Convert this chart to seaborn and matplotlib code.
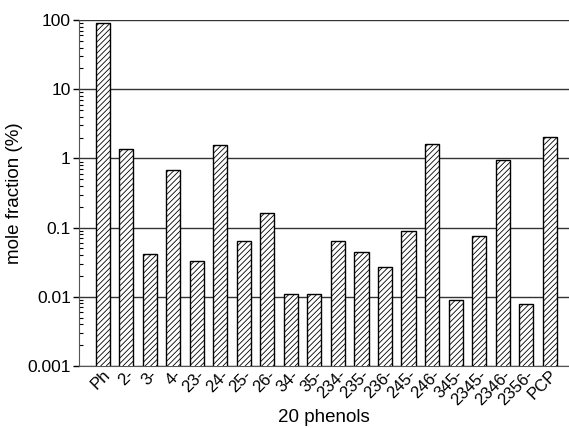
import pandas as pd
import matplotlib
matplotlib.use('Agg')
import matplotlib.pyplot as plt
import matplotlib.ticker as mticker
import seaborn as sns

sns.set_style('white')
plt.rcParams['font.family'] = ['Liberation Sans', 'DejaVu Sans']
plt.rcParams['hatch.linewidth'] = 0.6
plt.rcParams['text.color'] = 'black'
plt.rcParams['axes.labelcolor'] = 'black'
plt.rcParams['xtick.color'] = 'black'
plt.rcParams['ytick.color'] = 'black'

phenols = ['Ph', '2-', '3-', '4-', '23-', '24-', '25-', '26-', '34-', '35-',
           '234-', '235-', '236-', '245-', '246-', '345-', '2345-', '2346-',
           '2356-', 'PCP']
mole_fraction = [90, 1.38, 0.042, 0.69, 0.033, 1.54, 0.065, 0.162, 0.011, 0.011,
                 0.063, 0.045, 0.027, 0.09, 1.63, 0.0089, 0.076, 0.935,
                 0.0079, 2.03]

df = pd.DataFrame({'phenol': phenols, 'fraction': mole_fraction})

fig = plt.figure(figsize=(5.69, 4.28), dpi=100)
ax = fig.add_axes([0.139, 0.145, 0.861, 0.808])

sns.barplot(data=df, x='phenol', y='fraction', color='white', edgecolor='black',
            linewidth=1.0, width=0.6, saturation=1, ax=ax)
for bar in ax.patches:
    bar.set_hatch('//////')
    bar.set_zorder(3)

ax.set_yscale('log')
ax.set_ylim(0.001, 100)
ax.set_xlim(-1, 19.82)

ax.yaxis.set_major_locator(mticker.LogLocator(base=10, numticks=10))
ax.yaxis.set_major_formatter(mticker.FuncFormatter(lambda v, p: f'{v:g}'))
ax.yaxis.set_minor_locator(mticker.LogLocator(base=10, subs=range(2, 10), numticks=20))
ax.yaxis.set_minor_formatter(mticker.NullFormatter())
ax.tick_params(axis='y', which='major', direction='out', length=4, width=1,
               left=True, labelsize=12.5, pad=2)
ax.tick_params(axis='y', which='minor', direction='in', length=3, width=0.8, left=True)
ax.tick_params(axis='x', length=0, labelsize=12, pad=1)

ax.grid(axis='y', which='major', color='#333333', linewidth=1.0, zorder=0)
ax.set_axisbelow(True)

for lab in ax.get_xticklabels():
    lab.set_rotation(45)
    lab.set_ha('right')
    lab.set_rotation_mode('anchor')

for side in ['top', 'right']:
    ax.spines[side].set_visible(False)
ax.spines['left'].set_color('#555555')
ax.spines['bottom'].set_color('#555555')

ax.set_xlabel('20 phenols', fontsize=13.5, labelpad=1)
ax.set_ylabel('mole fraction (%)', fontsize=13.5, labelpad=3)

fig.savefig('out.png', dpi=100)
